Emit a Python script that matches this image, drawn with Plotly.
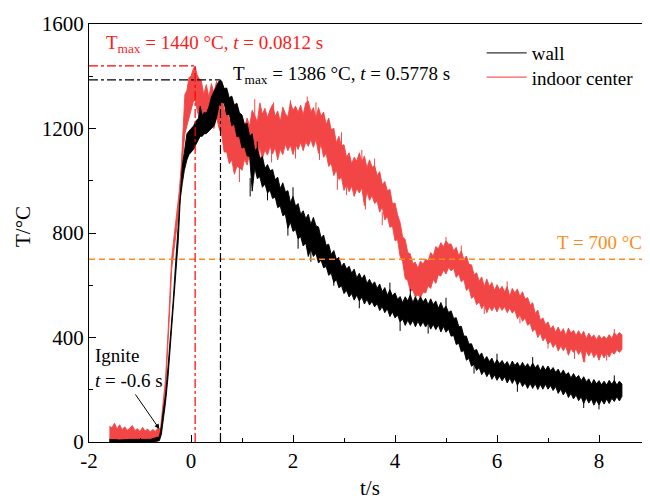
import plotly.graph_objects as go

# ---------------- data ----------------
# indoor center (red): time and upper / lower edge of the noisy trace, rise + peak part
t_red_a = [-1.60, -1.55, -1.50, -1.45, -1.40, -1.35, -1.30, -1.25, -1.20, -1.15, -1.10, -1.05,
           -1.00, -0.95, -0.90, -0.85, -0.80, -0.75, -0.70, -0.65, -0.60, -0.58, -0.55, -0.50,
           -0.45, -0.40, -0.38, -0.33, -0.28, -0.23, -0.19, -0.15, -0.12, -0.08, -0.04, 0.00,
           0.04, 0.08, 0.12, 0.16, 0.20, 0.25, 0.30, 0.35, 0.40, 0.45, 0.50, 0.55]
red_hi_a = [60, 55, 72, 50, 66, 48, 58, 45, 53, 63, 44, 51,
            40, 56, 42, 50, 38, 48, 40, 53, 48, 90, 140, 240,
            420, 620, 700, 790, 870, 960, 1060, 1200, 1330, 1345, 1395, 1400,
            1425, 1440, 1405, 1390, 1385, 1330, 1368, 1320, 1372, 1335, 1380, 1345]
red_lo_a = [0, 0, 2, 0, 3, 0, 2, 0, 1, 3, 0, 2,
            0, 2, 0, 1, 0, 2, 0, 3, 30, 60, 110, 200,
            370, 570, 660, 740, 820, 910, 1000, 1120, 1180, 1220, 1250, 1270,
            1300, 1310, 1270, 1240, 1250, 1215, 1250, 1205, 1240, 1200, 1245, 1200]

# wall (black): rise + peak part
t_wall_a = [-1.60, -1.40, -1.20, -1.00, -0.80, -0.62, -0.58, -0.55, -0.50, -0.45, -0.40, -0.35,
            -0.30, -0.25, -0.21, -0.17, -0.13, -0.08, -0.04, 0.00, 0.05, 0.10, 0.15, 0.18,
            0.22, 0.26, 0.30, 0.35, 0.40, 0.45, 0.50, 0.55]
wall_hi_a = [10, 8, 10, 9, 10, 20, 60, 110, 180, 290, 400, 540,
             690, 830, 980, 1060, 1110, 1180, 1190, 1200, 1210, 1230, 1240, 1285,
             1250, 1262, 1258, 1282, 1320, 1342, 1362, 1382]
wall_lo_a = [0, 0, 0, 0, 0, 5, 30, 80, 150, 250, 360, 490,
             640, 770, 930, 990, 1040, 1080, 1100, 1110, 1120, 1140, 1160, 1170,
             1170, 1180, 1180, 1190, 1200, 1210, 1240, 1290]

# decay part, sampled every 0.05 s from 0.60 s to 8.45 s (158 samples)
t_b = [round(0.60 + 0.05 * i, 2) for i in range(158)]
red_hi_b = [1330, 1270, 1280, 1230, 1250, 1205, 1215, 1185, 1220, 1205,
            1240, 1210, 1270, 1250, 1225, 1298, 1255, 1277, 1242, 1272,
            1292, 1247, 1267, 1227, 1282, 1257, 1245, 1300, 1270, 1285,
            1262, 1290, 1253, 1298, 1305, 1263, 1280, 1240, 1280, 1248,
            1263, 1215, 1240, 1195, 1201, 1145, 1170, 1133, 1138, 1090,
            1107, 1065, 1090, 1075, 1107, 1072, 1095, 1050, 1080, 1052,
            1058, 1020, 1035, 985, 997, 962, 967, 912, 915, 870,
            840, 785, 775, 725, 720, 683, 688, 665, 693, 680,
            700, 693, 725, 712, 748, 740, 763, 747, 770, 757,
            758, 732, 745, 713, 732, 698, 712, 680, 678, 640,
            648, 615, 632, 595, 624, 596, 611, 580, 602, 583,
            596, 575, 595, 558, 588, 570, 586, 557, 575, 547,
            553, 524, 533, 492, 505, 467, 475, 450, 460, 433,
            445, 420, 440, 418, 434, 407, 436, 417, 428, 408,
            426, 408, 424, 395, 417, 400, 410, 391, 409, 395,
            405, 394, 411, 396, 418, 407, 419, 410]
red_lo_b = [1180, 1110, 1110, 1065, 1080, 1025, 1055, 1050, 1040, 1082,
            1060, 1105, 1060, 1115, 1097, 1130, 1085, 1118, 1098, 1132,
            1102, 1128, 1080, 1122, 1100, 1140, 1115, 1137, 1100, 1140,
            1120, 1147, 1115, 1148, 1132, 1158, 1128, 1158, 1105, 1140,
            1090, 1105, 1055, 1067, 1020, 1040, 1005, 1013, 963, 988,
            958, 980, 940, 970, 953, 973, 905, 957, 925, 943,
            913, 922, 880, 900, 850, 864, 822, 827, 770, 775,
            710, 690, 625, 618, 578, 581, 555, 563, 552, 574,
            570, 598, 588, 622, 607, 640, 635, 658, 643, 668,
            655, 665, 630, 643, 613, 622, 580, 590, 550, 558,
            525, 537, 510, 528, 495, 518, 502, 520, 498, 520,
            504, 518, 495, 513, 493, 505, 472, 488, 462, 475,
            447, 455, 423, 433, 400, 417, 387, 400, 375, 385,
            362, 377, 348, 368, 349, 366, 332, 358, 343, 356,
            335, 351, 306, 349, 329, 347, 323, 340, 313, 340,
            322, 342, 325, 346, 336, 354, 343, 355]
wall_hi_b = [1382, 1353, 1355, 1318, 1324, 1290, 1297, 1260, 1252, 1215,
             1220, 1170, 1180, 1115, 1125, 1085, 1093, 1048, 1062, 1038,
             1043, 1004, 1014, 970, 992, 958, 962, 917, 940, 903,
             913, 872, 885, 855, 872, 833, 860, 828, 823, 782,
             792, 753, 757, 718, 733, 700, 706, 672, 685, 662,
             673, 646, 662, 628, 646, 624, 640, 607, 623, 602,
             613, 588, 605, 575, 591, 562, 583, 560, 571, 546,
             557, 533, 556, 540, 564, 534, 556, 536, 556, 536,
             550, 526, 548, 526, 540, 512, 534, 508, 520, 496,
             502, 473, 476, 442, 443, 406, 405, 375, 376, 350,
             354, 330, 341, 315, 327, 308, 321, 298, 315, 300,
             312, 295, 308, 288, 310, 293, 305, 287, 305, 287,
             300, 283, 302, 284, 296, 273, 292, 275, 291, 273,
             285, 267, 279, 259, 276, 257, 266, 245, 262, 245,
             255, 235, 250, 231, 242, 221, 239, 223, 235, 219,
             233, 218, 236, 221, 236, 218, 233, 222]
wall_lo_b = [1300, 1297, 1252, 1255, 1210, 1217, 1168, 1170, 1125, 1130,
             1095, 1093, 960, 1050, 1008, 1015, 975, 988, 953, 963,
             932, 938, 897, 903, 866, 872, 818, 841, 806, 813,
             778, 786, 750, 762, 710, 738, 710, 722, 685, 696,
             667, 672, 638, 646, 610, 622, 590, 598, 568, 580,
             555, 568, 543, 562, 540, 555, 528, 546, 524, 538,
             517, 530, 503, 518, 495, 510, 480, 498, 475, 486,
             460, 470, 446, 466, 447, 465, 441, 462, 442, 460,
             440, 456, 432, 450, 430, 448, 421, 442, 420, 433,
             405, 408, 373, 378, 345, 350, 313, 320, 290, 298,
             274, 285, 258, 273, 250, 266, 240, 257, 236, 252,
             234, 250, 226, 244, 224, 242, 217, 234, 212, 226,
             205, 224, 205, 223, 201, 220, 202, 221, 202, 216,
             197, 212, 186, 202, 180, 196, 170, 186, 165, 180,
             158, 173, 147, 169, 149, 165, 141, 160, 142, 162,
             145, 165, 147, 167, 155, 173, 157, 175]

# isolated noise spikes sticking out of the bands: time, start inside band, tip
red_spk_t = [0.95, 1.25, 1.35, 1.58, 1.62, 1.95, 2.05, 2.28, 2.45, 2.52, 2.87, 2.95, 3.05,
             3.35, 3.42, 3.60, 3.75, 4.40, 5.00, 5.30, 5.75, 6.20, 6.45, 7.00, 7.52, 7.72,
             8.15, 8.30]
red_spk_from = [1070, 1230, 1130, 1120, 1230, 1240, 1160, 1270, 1220, 1130, 1040, 1110, 1010,
                1050, 950, 1030, 880, 570, 750, 720, 540, 580, 500, 400, 360, 355,
                355, 400]
red_spk_to = [995, 1312, 1065, 1070, 1300, 1308, 1085, 1322, 1300, 1080, 965, 1185, 945,
              1118, 890, 1085, 830, 540, 785, 752, 490, 615, 455, 358, 318, 305,
              312, 432]
wall_spk_t = [1.16, 1.30, 1.50, 1.90, 2.00, 2.10, 2.35, 2.80, 3.30, 3.90, 4.10, 4.30, 4.65,
              5.00, 5.55, 6.00, 6.40, 6.70, 7.70, 8.00, 8.30]
wall_spk_from = [1010, 1100, 980, 840, 920, 800, 750, 660, 560, 570, 480, 550, 470,
                 510, 320, 305, 240, 295, 170, 165, 230]
wall_spk_to = [940, 1150, 925, 790, 975, 740, 690, 598, 512, 610, 425, 585, 415,
               552, 262, 338, 192, 325, 130, 125, 255]

series_names = ["wall", "indoor center"]
series_colors = ["#000000", "#F24646"]

# peak markers and reference values
red_peak_t, red_peak_T = 0.0812, 1440
wall_peak_t, wall_peak_T = 0.5778, 1386
ref_T = 700
ignite_t, ignite_T = -0.62, 50

x_ticks = [-2, 0, 2, 4, 6, 8]
x_tick_text = ["-2", "0", "2", "4", "6", "8"]
y_ticks = [0, 400, 800, 1200, 1600]

FONT = "Liberation Serif, Times New Roman, serif"

t_red = t_red_a + t_b
red_hi = red_hi_a + red_hi_b
red_lo = red_lo_a + red_lo_b
t_wall = t_wall_a + t_b
wall_hi = wall_hi_a + wall_hi_b
wall_lo = wall_lo_a + wall_lo_b


def spikes(ts, y0s, y1s):
    xs, ys = [], []
    for t, a, b in zip(ts, y0s, y1s):
        xs += [t, t, None]
        ys += [a, b, None]
    return xs, ys


fig = go.Figure()

# noise bands (red first so black sits on top)
fig.add_trace(go.Scatter(
    x=t_red + t_red[::-1], y=red_hi + red_lo[::-1], mode="lines",
    fill="toself", fillcolor=series_colors[1],
    line=dict(color=series_colors[1], width=0.9), showlegend=False, hoverinfo="skip"))
sx, sy = spikes(red_spk_t, red_spk_from, red_spk_to)
fig.add_trace(go.Scatter(x=sx, y=sy, mode="lines", line=dict(color=series_colors[1], width=1),
                         showlegend=False, hoverinfo="skip"))
fig.add_trace(go.Scatter(
    x=t_wall + t_wall[::-1], y=wall_hi + wall_lo[::-1], mode="lines",
    fill="toself", fillcolor=series_colors[0],
    line=dict(color=series_colors[0], width=0.9), showlegend=False, hoverinfo="skip"))
sx, sy = spikes(wall_spk_t, wall_spk_from, wall_spk_to)
fig.add_trace(go.Scatter(x=sx, y=sy, mode="lines", line=dict(color=series_colors[0], width=1),
                         showlegend=False, hoverinfo="skip"))

# legend entries (two legends so each row can be placed exactly)
fig.add_trace(go.Scatter(x=[None], y=[None], mode="lines", name=series_names[0],
                         line=dict(color="#333333", width=1.2), legend="legend"))
fig.add_trace(go.Scatter(x=[None], y=[None], mode="lines", name=series_names[1],
                         line=dict(color="#F06060", width=1.2), legend="legend2"))

# reference lines
fig.add_shape(type="line", x0=-2, x1=9, y0=ref_T, y1=ref_T, xref="x", yref="y",
              line=dict(color="#FF8C1A", width=1.5, dash="6px,4px"))
fig.add_shape(type="line", x0=-2, x1=red_peak_t, y0=red_peak_T, y1=red_peak_T,
              line=dict(color="#FF0000", width=1.2, dash="dashdot"))
fig.add_shape(type="line", x0=red_peak_t, x1=red_peak_t, y0=0, y1=red_peak_T,
              line=dict(color="#FF0000", width=1.2, dash="dashdot"))
fig.add_shape(type="line", x0=-2, x1=wall_peak_t, y0=wall_peak_T, y1=wall_peak_T,
              line=dict(color="#000000", width=1.2, dash="dashdot"))
fig.add_shape(type="line", x0=wall_peak_t, x1=wall_peak_t, y0=0, y1=wall_peak_T,
              line=dict(color="#000000", width=1.2, dash="dashdot"))

# annotations
fig.add_annotation(x=-1.71, y=1523, xref="x", yref="y", xanchor="left", yanchor="middle",
                   text="T<sub>max</sub> = 1440 °C, <i>t</i> = 0.0812 s", showarrow=False,
                   font=dict(family=FONT, size=19, color="#FF1A1A"))
fig.add_annotation(x=0.78, y=1405, xref="x", yref="y", xanchor="left", yanchor="middle",
                   text="T<sub>max</sub> = 1386 °C, <i>t</i> = 0.5778 s", showarrow=False,
                   font=dict(family=FONT, size=19, color="#000000"))
fig.add_annotation(x=7.13, y=762, xref="x", yref="y", xanchor="left", yanchor="middle",
                   text="T = 700 °C", showarrow=False,
                   font=dict(family=FONT, size=19, color="#FF8C1A"))
fig.add_annotation(x=-1.93, y=283, xref="x", yref="y", xanchor="left", yanchor="middle",
                   text="Ignite<br><i>t</i> = -0.6 s", showarrow=False, align="left",
                   font=dict(family=FONT, size=19, color="#000000"))
fig.add_annotation(x=ignite_t, y=ignite_T, xref="x", yref="y", text="", showarrow=True,
                   ax=-25, ay=-36, arrowhead=2, arrowsize=1, arrowwidth=1, arrowcolor="#000000")

# axis titles
fig.add_annotation(x=0.501, y=-0.11, xref="paper", yref="paper", xanchor="center", yanchor="middle",
                   text="t/s", showarrow=False, font=dict(family=FONT, size=21, color="#000000"))
fig.add_annotation(x=-0.119, y=0.515, xref="paper", yref="paper", xanchor="center", yanchor="middle",
                   text="T/°C", textangle=-90, showarrow=False,
                   font=dict(family=FONT, size=21, color="#000000"))

axis_common = dict(
    showgrid=False, zeroline=False, showline=True, linecolor="#000000", linewidth=1.3,
    mirror=True, ticks="inside", ticklen=7, tickwidth=1.2, tickcolor="#000000",
    tickfont=dict(family=FONT, size=21, color="#000000"), automargin=False,
)

legend_common = dict(xanchor="left", yanchor="top", font=dict(family=FONT, size=19, color="#000000"),
                     bgcolor="rgba(0,0,0,0)", itemwidth=40)

fig.update_layout(
    width=650, height=499,
    margin=dict(l=81, r=8, t=16, b=65),
    plot_bgcolor="white", paper_bgcolor="white",
    font=dict(family=FONT, size=19, color="#000000"),
    xaxis=dict(range=[-2, 9], tickvals=x_ticks, ticktext=x_tick_text,
               minor=dict(dtick=1, tick0=-2, ticks="inside", ticklen=4, tickcolor="#000000", tickwidth=1.2),
               **axis_common),
    yaxis=dict(range=[0, 1600], tickvals=y_ticks,
               minor=dict(dtick=200, tick0=0, ticks="inside", ticklen=4, tickcolor="#000000", tickwidth=1.2),
               **axis_common),
    legend=dict(x=0.70, y=0.976, **legend_common),
    legend2=dict(x=0.70, y=0.918, **legend_common),
    showlegend=True,
)

fig.write_html("out.html")
